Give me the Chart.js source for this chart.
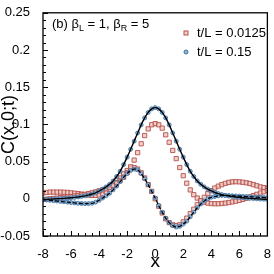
<!DOCTYPE html>
<html>
<head>
<meta charset="utf-8">
<script src="https://cdn.jsdelivr.net/npm/chart.js@4/dist/chart.umd.min.js"></script>
<style>
  html, body { margin: 0; padding: 0; background: #fff; }
  canvas { display: block; }
</style>
</head>
<body>
<canvas id="grafico" width="274" height="274"></canvas>
<script>
// posições x das amostras
const xs = [
  -8, -7.75, -7.5, -7.25, -7, -6.75, -6.5, -6.25, -6, -5.75, -5.5, -5.25, -5, -4.75, -4.5, -4.25,
  -4, -3.75, -3.5, -3.25, -3, -2.75, -2.5, -2.25, -2, -1.75, -1.5, -1.25, -1, -0.75, -0.5, -0.25,
  0, 0.25, 0.5, 0.75, 1, 1.25, 1.5, 1.75, 2, 2.25, 2.5, 2.75, 3, 3.25, 3.5, 3.75,
  4, 4.25, 4.5, 4.75, 5, 5.25, 5.5, 5.75, 6, 6.25, 6.5, 6.75, 7, 7.25, 7.5, 7.75, 8
];

// linha cheia (teoria) + círculos azuis, t/L = 0.15
const solidCurve = [
  -0.001, -0.0008, -0.0005, -0.0002, 0.0, 0.0003, 0.0006, 0.001, 0.0014, 0.0019, 0.0025, 0.0032, 0.004, 0.005, 0.0064, 0.008,
  0.0103, 0.013, 0.016, 0.0195, 0.024, 0.030, 0.037, 0.046, 0.056, 0.0665, 0.0775, 0.0885, 0.0993, 0.1087, 0.1161, 0.1209,
  0.1226, 0.1209, 0.1161, 0.1087, 0.0993, 0.0885, 0.0775, 0.0665, 0.056, 0.046, 0.037, 0.030, 0.024, 0.0195, 0.016, 0.013,
  0.0105, 0.0085, 0.007, 0.0057, 0.0046, 0.0037, 0.003, 0.0024, 0.0019, 0.0014, 0.001, 0.0006, 0.0003, 0.0, -0.0003, -0.0006, -0.0008
];

// linha tracejada (teoria) + círculos azuis, t/L = 0.15
const dashedCurve = [
  -0.001, -0.0015, -0.002, -0.0025, -0.003, -0.0035, -0.004, -0.0045, -0.005, -0.0055, -0.006, -0.0063, -0.0065, -0.0064, -0.006, -0.0045,
  -0.002, 0.001, 0.004, 0.0075, 0.012, 0.017, 0.023, 0.029, 0.034, 0.038, 0.040, 0.039, 0.034, 0.027, 0.019, 0.010,
  0.001, -0.009, -0.018, -0.026, -0.032, -0.036, -0.038, -0.037, -0.034, -0.030, -0.024, -0.018, -0.012, -0.007, -0.003, 0.0,
  0.002, 0.003, 0.004, 0.0045, 0.0045, 0.0043, 0.004, 0.0038, 0.0035, 0.0033, 0.003, 0.0028, 0.0025, 0.0023, 0.002, 0.0018, 0.0015
];

// quadrados vermelhos, t/L = 0.0125 (pico)
const redPeak = [
  -0.001, -0.0005, 0.0, 0.0005, 0.001, 0.0015, 0.002, 0.0025, 0.003, 0.0037, 0.0045, 0.0052, 0.006, 0.007, 0.008, 0.0093,
  0.0107, 0.012, 0.0135, 0.0155, 0.018, 0.021, 0.0245, 0.029, 0.035, 0.043, 0.052, 0.062, 0.074, 0.085, 0.094, 0.0995,
  0.101, 0.0995, 0.095, 0.086, 0.076, 0.065, 0.054, 0.042, 0.031, 0.021, 0.012, 0.0055, 0.001, -0.0025, -0.0045, -0.0058,
  -0.0064, -0.0066, -0.0066, -0.0063, -0.0058, -0.005, -0.0042, -0.0032, -0.002, -0.0007, 0.0008, 0.0025, 0.0043, 0.006, 0.0078, 0.0095, 0.011
];

// quadrados vermelhos, t/L = 0.0125 (onda)
const redWave = [
  0.008, 0.0085, 0.009, 0.009, 0.009, 0.009, 0.0088, 0.0085, 0.008, 0.0075, 0.007, 0.0063, 0.0056, 0.005, 0.0046, 0.0046,
  0.0052, 0.0067, 0.009, 0.0125, 0.017, 0.022, 0.028, 0.0335, 0.038, 0.041, 0.042, 0.040, 0.035, 0.028, 0.019, 0.010,
  0.0, -0.010, -0.019, -0.027, -0.032, -0.035, -0.036, -0.035, -0.031, -0.026, -0.020, -0.014, -0.008, -0.003, 0.002, 0.007,
  0.011, 0.0145, 0.017, 0.019, 0.0208, 0.022, 0.0228, 0.023, 0.0228, 0.0222, 0.0215, 0.0205, 0.019, 0.0175, 0.016, 0.015, 0.014
];

const xTicks = [-8, -6, -4, -2, 0, 2, 4, 6, 8];
const yTicks = [-0.05, 0, 0.05, 0.1, 0.15, 0.2, 0.25];
const yTickLabels = ['-0.05', '0', '0.05', '0.1', '0.15', '0.2', '0.25'];
const legendLabels = ['t/L = 0.0125', 't/L = 0.15'];

const RED_EDGE = '#b5504a';
const RED_FILL = 'rgba(236,190,182,0.7)';
const BLUE_EDGE = '#3d6f9e';
const BLUE_FILL = '#8fb6d9';
const FONT = "'Liberation Sans', Arial, sans-serif";

const pts = arr => xs.map((x, i) => ({ x, y: arr[i] }));

const decoracao = {
  id: 'decoracao',
  afterDraw(chart) {
    const { ctx, chartArea: a, scales: { x, y } } = chart;
    ctx.save();
    ctx.strokeStyle = '#000';

    // ticks para dentro (esquerda e baixo)
    ctx.lineWidth = 1;
    ctx.beginPath();
    for (let v = -8; v <= 8.0001; v += 0.5) {
      const px = Math.round(x.getPixelForValue(v)) + 0.5;
      const len = Math.abs(v % 2) < 1e-6 ? 5 : 3;
      ctx.moveTo(px, a.bottom);
      ctx.lineTo(px, a.bottom - len);
    }
    for (let k = -5; k <= 25; k++) {
      const py = Math.round(y.getPixelForValue(k / 100)) + 0.5;
      const len = k % 5 === 0 ? 5 : 3;
      ctx.moveTo(a.left, py);
      ctx.lineTo(a.left + len, py);
    }
    ctx.stroke();

    // moldura
    ctx.lineWidth = 1.3;
    ctx.strokeRect(a.left, a.top, a.right - a.left, a.bottom - a.top);

    // título do eixo y
    ctx.fillStyle = '#000';
    ctx.save();
    ctx.translate(9, (a.top + a.bottom) / 2);
    ctx.rotate(-Math.PI / 2);
    ctx.font = '18px ' + FONT;
    ctx.textAlign = 'center';
    ctx.textBaseline = 'middle';
    ctx.fillText('C(x,0;t)', 0, 0);
    ctx.restore();

    // anotação (b)
    ctx.textBaseline = 'alphabetic';
    let tx = a.left + 9;
    const ty = a.top + 15;
    const parte = (txt, size, dy) => {
      ctx.font = size + 'px ' + FONT;
      ctx.fillText(txt, tx, ty + dy);
      tx += ctx.measureText(txt).width;
    };
    parte('(b) β', 13, 0);
    parte('L', 9, 3);
    parte(' = 1, β', 13, 0);
    parte('R', 9, 3);
    parte(' = 5', 13, 0);

    // legenda
    ctx.font = '13px ' + FONT;
    ctx.textBaseline = 'middle';
    const lx = 186, ly1 = 33, ly2 = 52;
    ctx.lineWidth = 1;
    ctx.fillStyle = RED_FILL;
    ctx.strokeStyle = RED_EDGE;
    ctx.fillRect(lx - 2, ly1 - 2, 4, 4);
    ctx.strokeRect(lx - 2, ly1 - 2, 4, 4);
    ctx.beginPath();
    ctx.arc(lx, ly2, 2, 0, Math.PI * 2);
    ctx.fillStyle = BLUE_FILL;
    ctx.fill();
    ctx.strokeStyle = BLUE_EDGE;
    ctx.stroke();
    ctx.fillStyle = '#000';
    ctx.fillText(legendLabels[0], 197, ly1);
    ctx.fillText(legendLabels[1], 197, ly2);
    ctx.restore();
  }
};

const ctx = document.getElementById('grafico').getContext('2d');
new Chart(ctx, {
  type: 'scatter',
  data: {
    datasets: [
      {
        label: 'teoria (cheia)', data: pts(solidCurve), showLine: true,
        borderColor: '#000', borderWidth: 1.4, pointRadius: 0, tension: 0.3, order: 1
      },
      {
        label: 'teoria (tracejada)', data: pts(dashedCurve), showLine: true,
        borderColor: '#000', borderWidth: 1.3, borderDash: [4, 2], pointRadius: 0, tension: 0.3, order: 1
      },
      {
        label: legendLabels[1], data: pts(solidCurve), pointStyle: 'circle', pointRadius: 2,
        backgroundColor: BLUE_FILL, borderColor: BLUE_EDGE, borderWidth: 0.8, order: 2
      },
      {
        label: legendLabels[1], data: pts(dashedCurve), pointStyle: 'circle', pointRadius: 2,
        backgroundColor: BLUE_FILL, borderColor: BLUE_EDGE, borderWidth: 0.8, order: 2
      },
      {
        label: legendLabels[0], data: pts(redPeak), pointStyle: 'rect', pointRadius: 3,
        backgroundColor: RED_FILL, borderColor: RED_EDGE, borderWidth: 0.9, order: 3
      },
      {
        label: legendLabels[0], data: pts(redWave), pointStyle: 'rect', pointRadius: 3,
        backgroundColor: RED_FILL, borderColor: RED_EDGE, borderWidth: 0.9, order: 3
      }
    ]
  },
  options: {
    responsive: false,
    animation: false,
    events: [],
    layout: { padding: { top: 5, right: 6, left: 0, bottom: 0 } },
    plugins: { legend: { display: false }, tooltip: { enabled: false } },
    scales: {
      x: {
        type: 'linear', min: -8, max: 8,
        afterBuildTicks: s => { s.ticks = xTicks.map(v => ({ value: v })); },
        afterFit: s => { s.height = 38; },
        grid: { display: false }, border: { display: false },
        ticks: { color: '#000', font: { family: FONT, size: 13 }, padding: 3, maxRotation: 0, autoSkip: false },
        title: { display: true, text: 'x', color: '#000', font: { family: FONT, size: 19 }, padding: { top: 0, bottom: 1 } }
      },
      y: {
        type: 'linear', min: -0.05, max: 0.25,
        afterBuildTicks: s => { s.ticks = yTicks.map(v => ({ value: v })); },
        afterFit: s => { s.width = 43; },
        grid: { display: false }, border: { display: false },
        ticks: {
          color: '#000', font: { family: FONT, size: 13 }, padding: 5, autoSkip: false,
          callback: (v, i) => yTickLabels[i]
        }
      }
    }
  },
  plugins: [decoracao]
});
</script>
</body>
</html>
